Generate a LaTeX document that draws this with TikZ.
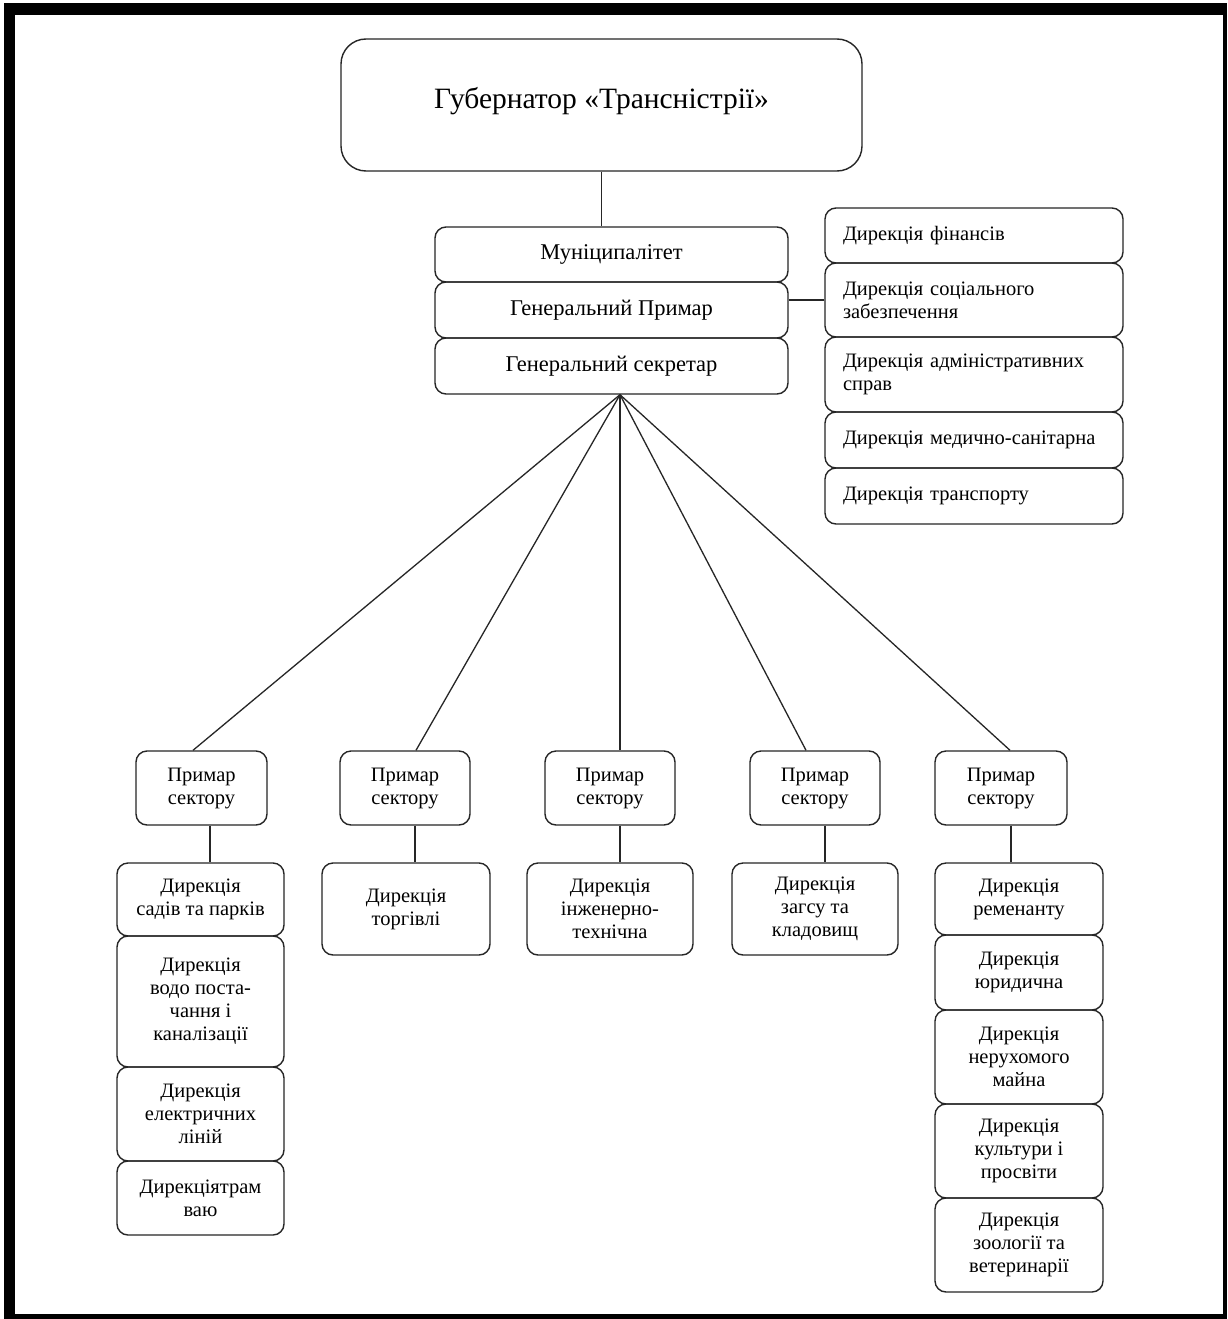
\documentclass[tikz,border=0pt]{standalone}
\usepackage{fontspec}
\setmainfont{Liberation Serif}
\usetikzlibrary{calc}
\tikzset{
  box/.style={draw=black!85, line width=1.4pt, rounded corners=11pt, inner sep=2pt, align=center,
    font=\fontsize{20.5}{23}\selectfont},
  lbox/.style={box, align=left, text width=262pt, inner xsep=18pt, inner ysep=2pt},
  conn/.style={draw=black!85, line width=1.3pt}
}
\newcommand\cbox[7][]{%
  \pgfmathsetmacro\cx{(#3+#5)/2}\pgfmathsetmacro\cy{(#4+#6)/2}%
  \pgfmathsetmacro\cw{#5-#3}\pgfmathsetmacro\ch{#6-#4}%
  \node[box,#1,minimum width=\cw pt,minimum height=\ch pt] (#2) at (\cx,\cy) {#7};}
\begin{document}
\begin{tikzpicture}[x=1pt,y=-1pt]
\useasboundingbox (0,0) rectangle (1227,1319);
\fill[white] (0,0) rectangle (1227,1319);
\fill[black] (4,3) rectangle (1227,1319);
\fill[white] (15,15) rectangle (1223,1314);

% top
\cbox[rounded corners=25pt, font=\fontsize{29.5}{33}\selectfont, text depth=14pt]{top}{341}{39}{862}{171}{Губернатор «Трансністрії»}

% centre stack
\cbox[font=\fontsize{22.5}{25}\selectfont]{mun}{435}{227}{788}{282}{Муніципалітет}
\cbox[font=\fontsize{22.5}{25}\selectfont]{gp}{435}{282}{788}{338}{Генеральний Примар}
\cbox[font=\fontsize{22.5}{25}\selectfont]{gs}{435}{338}{788}{394}{Генеральний секретар}

% right stack
\cbox[lbox]{f1}{825}{208}{1123}{263}{Дирекція фінансів}
\cbox[lbox]{f2}{825}{263}{1123}{337}{Дирекція соціального\\забезпечення}
\cbox[lbox]{f3}{825}{337}{1123}{412}{Дирекція адміністративних\\справ}
\cbox[lbox]{f4}{825}{412}{1123}{468}{Дирекція медично-санітарна}
\cbox[lbox]{f5}{825}{468}{1123}{524}{Дирекція транспорту}

% sector primars
\cbox{s1}{136}{751}{267}{825}{Примар\\сектору}
\cbox{s2}{340}{751}{470}{825}{Примар\\сектору}
\cbox{s3}{545}{751}{675}{825}{Примар\\сектору}
\cbox{s4}{750}{751}{880}{825}{Примар\\сектору}
\cbox{s5}{935}{751}{1067}{825}{Примар\\сектору}

% column 1
\cbox{d11}{117}{863}{284}{936}{Дирекція\\садів та парків}
\cbox{d12}{117}{936}{284}{1067}{Дирекція\\водо поста-\\чання і\\каналізації}
\cbox{d13}{117}{1067}{284}{1161}{Дирекція\\електричних\\ліній}
\cbox{d14}{117}{1161}{284}{1235}{Дирекціятрам\\ваю}
% column 2
\cbox{d21}{322}{863}{490}{955}{Дирекція\\торгівлі}
% column 3
\cbox{d31}{527}{863}{693}{955}{Дирекція\\інженерно-\\технічна}
% column 4
\cbox{d41}{732}{863}{898}{955}{Дирекція\\загсу та\\кладовищ}
% column 5
\cbox{d51}{935}{863}{1103}{935}{Дирекція\\ременанту}
\cbox{d52}{935}{935}{1103}{1010}{Дирекція\\юридична}
\cbox{d53}{935}{1010}{1103}{1104}{Дирекція\\нерухомого\\майна}
\cbox{d54}{935}{1104}{1103}{1198}{Дирекція\\культури і\\просвіти}
\cbox{d55}{935}{1198}{1103}{1292}{Дирекція\\зоології та\\ветеринарії}

% connectors
\draw[conn] (top.south) -- (top.south |- mun.north);
\draw[conn] (f2.west) -- (f2.west -| gp.east);
\coordinate (fan) at ($(gs.south)+(8.5,0)$);
\coordinate (e1) at ($(s1.north)+(-8.5,0)$);
\coordinate (e2) at ($(s2.north)+(11,0)$);
\coordinate (e3) at ($(s3.north)+(10,0)$);
\coordinate (e4) at ($(s4.north)+(-9,0)$);
\coordinate (e5) at ($(s5.north)+(9,0)$);
\foreach \e in {e1,e2,e3,e4,e5} \draw[conn] (fan) -- (\e);
\coordinate (v1) at ($(s1.south)+(8.5,0)$);
\coordinate (v2) at ($(s2.south)+(10,0)$);
\coordinate (v3) at ($(s3.south)+(10,0)$);
\coordinate (v4) at ($(s4.south)+(10,0)$);
\coordinate (v5) at ($(s5.south)+(10,0)$);
\draw[conn] (v1) -- (v1 |- d11.north);
\draw[conn] (v2) -- (v2 |- d21.north);
\draw[conn] (v3) -- (v3 |- d31.north);
\draw[conn] (v4) -- (v4 |- d41.north);
\draw[conn] (v5) -- (v5 |- d51.north);
\end{tikzpicture}
\end{document}
